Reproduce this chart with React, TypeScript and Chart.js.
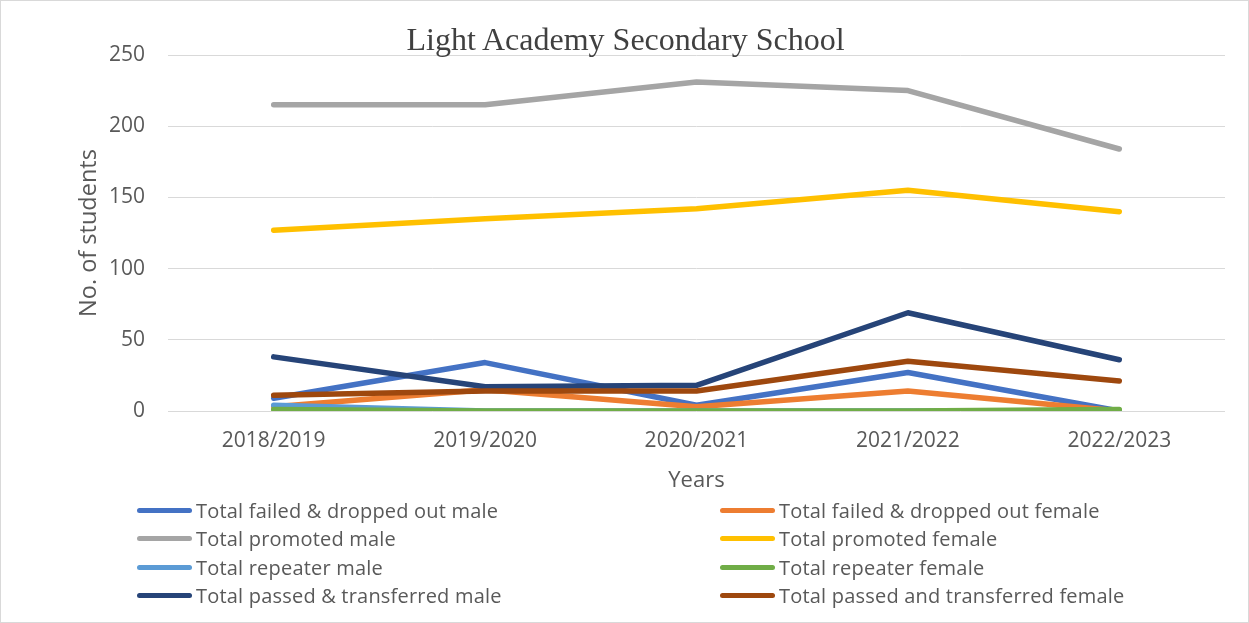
import React, { useEffect, useRef } from "react";
import { Chart, registerables } from "chart.js";

Chart.register(...registerables);

const chartTitle = "Light Academy Secondary School";
const xTitle = "Years";
const yTitle = "No. of students";

const categories = ["2018/2019", "2019/2020", "2020/2021", "2021/2022", "2022/2023"];

const failedMale = [9, 34, 4, 27, 0];
const failedFemale = [3, 15, 3, 14, 0];
const promotedMale = [215, 215, 231, 225, 184];
const promotedFemale = [127, 135, 142, 155, 140];
const repeaterMale = [4, 0, 0, 0, 0];
const repeaterFemale = [1, 0, 0, 0, 1];
const passedMale = [38, 17, 18, 69, 36];
const passedFemale = [11, 14, 14, 35, 21];

const seriesNames = [
  "Total failed & dropped out male",
  "Total failed & dropped out female",
  "Total promoted male",
  "Total promoted female",
  "Total repeater male",
  "Total repeater female",
  "Total passed & transferred male",
  "Total passed and transferred female",
];
const seriesData = [
  failedMale,
  failedFemale,
  promotedMale,
  promotedFemale,
  repeaterMale,
  repeaterFemale,
  passedMale,
  passedFemale,
];
const seriesColors = [
  "#4472C4",
  "#ED7D31",
  "#A5A5A5",
  "#FFC000",
  "#5B9BD5",
  "#70AD47",
  "#264478",
  "#9E480E",
];

const yMin = 0;
const yMax = 250;
const yStep = 50;

const textColor = "#595959";
const sansFont = "'Open Sans', 'DejaVu Sans', sans-serif";

export default function App() {
  const canvasRef = useRef<HTMLCanvasElement | null>(null);

  useEffect(() => {
    if (!canvasRef.current) return;
    const chart = new Chart(canvasRef.current, {
      type: "line",
      data: {
        labels: categories,
        datasets: seriesData.map((d, i) => ({
          label: seriesNames[i],
          data: d,
          borderColor: seriesColors[i],
          backgroundColor: seriesColors[i],
          borderWidth: 5.5,
          pointRadius: 0,
          pointHoverRadius: 0,
          tension: 0,
          fill: false,
          borderCapStyle: "round" as const,
          borderJoinStyle: "round" as const,
          order: seriesData.length - i,
        })),
      },
      options: {
        responsive: false,
        animation: false,
        events: [],
        layout: { padding: { left: 74, right: 25, top: 54, bottom: 130 } },
        plugins: {
          legend: { display: false },
          title: { display: false },
          tooltip: { enabled: false },
        },
        scales: {
          x: {
            type: "category",
            offset: true,
            grid: { display: false, drawTicks: false },
            border: { display: false },
            ticks: {
              color: textColor,
              font: { family: sansFont, size: 21 },
              padding: 17,
              maxRotation: 0,
              autoSkip: false,
            },
            title: {
              display: true,
              text: xTitle,
              color: textColor,
              font: { family: sansFont, size: 22 },
              padding: 0,
            },
            afterFit: (scale: any) => {
              scale.height = 83;
            },
          },
          y: {
            min: yMin,
            max: yMax,
            grid: { color: "#d9d9d9", lineWidth: 1, drawTicks: false },
            border: { display: false },
            ticks: {
              stepSize: yStep,
              color: textColor,
              font: { family: sansFont, size: 21 },
              padding: 23,
            },
            title: {
              display: true,
              text: yTitle,
              color: textColor,
              font: { family: sansFont, size: 23.5 },
              padding: 0,
            },
            afterFit: (scale: any) => {
              scale.width = 93;
            },
          },
        },
      },
    });
    return () => chart.destroy();
  }, []);

  const legendRows = [0, 1, 2, 3];
  const rowCenters = [509, 537, 566, 594];

  return (
    <div
      style={{
        position: "fixed",
        left: 0,
        top: 0,
        width: 1249,
        height: 623,
        boxSizing: "border-box",
        border: "1px solid #d9d9d9",
        background: "#ffffff",
        overflow: "hidden",
      }}
    >
      <canvas
        ref={canvasRef}
        width={1249}
        height={623}
        style={{ position: "absolute", left: 0, top: 0, width: 1249, height: 623 }}
      />
      <div
        style={{
          position: "absolute",
          left: 0,
          width: 1249,
          top: 22,
          textAlign: "center",
          fontFamily: "'Liberation Serif', 'Times New Roman', serif",
          fontSize: 32,
          lineHeight: "32px",
          color: "#404040",
          whiteSpace: "nowrap",
        }}
      >
        {chartTitle}
      </div>
      {legendRows.map((r) =>
        [0, 1].map((c) => {
          const idx = r * 2 + c;
          const lineLeft = c === 0 ? 136 : 719;
          return (
            <div
              key={idx}
              style={{
                position: "absolute",
                left: lineLeft,
                top: rowCenters[r] - 14,
                height: 28,
                display: "flex",
                alignItems: "center",
                whiteSpace: "nowrap",
              }}
            >
              <div
                style={{
                  width: 55,
                  height: 5,
                  borderRadius: 3,
                  background: seriesColors[idx],
                  marginRight: 4,
                }}
              />
              <span
                style={{
                  fontFamily: sansFont,
                  fontSize: 20,
                  letterSpacing: "0.2px",
                  color: textColor,
                }}
              >
                {seriesNames[idx]}
              </span>
            </div>
          );
        })
      )}
    </div>
  );
}
